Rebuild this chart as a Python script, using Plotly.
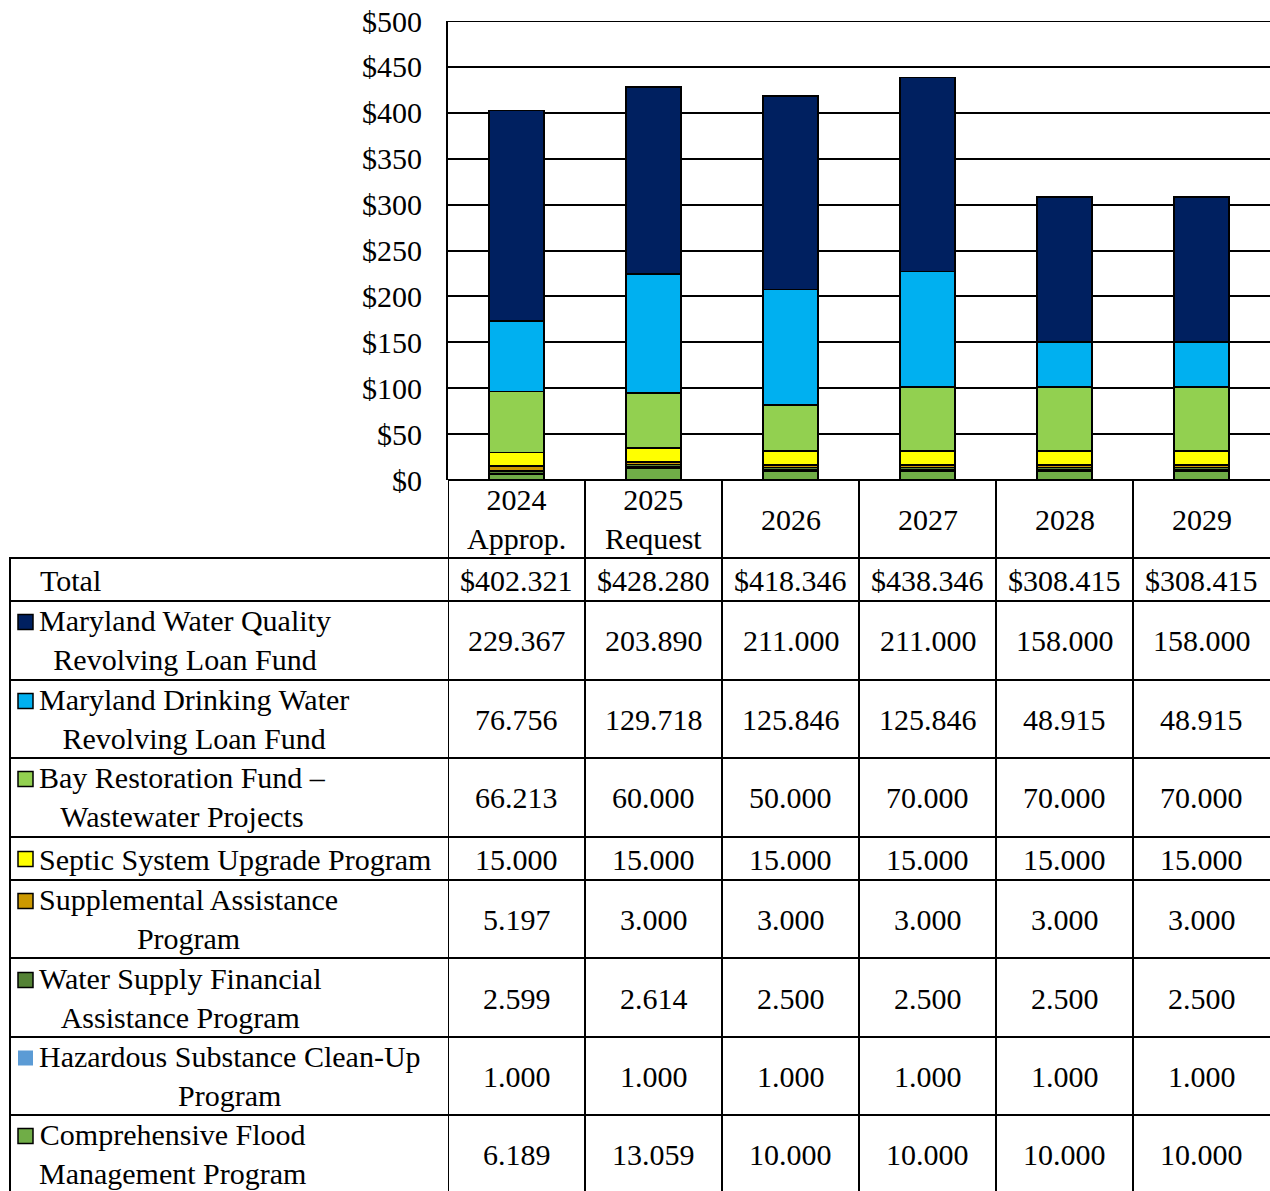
import plotly.graph_objects as go

W, H = 1270, 1191

categories = ["2024 Approp.", "2025 Request", "2026", "2027", "2028", "2029"]
category_labels = ["2024<br>Approp.", "2025<br>Request", "2026", "2027", "2028", "2029"]
y_tick_values = [0, 50, 100, 150, 200, 250, 300, 350, 400, 450, 500]

totals = [402.321, 428.280, 418.346, 438.346, 308.415, 308.415]
water_quality = [229.367, 203.890, 211.000, 211.000, 158.000, 158.000]
drinking_water = [76.756, 129.718, 125.846, 125.846, 48.915, 48.915]
bay_restoration = [66.213, 60.000, 50.000, 70.000, 70.000, 70.000]
septic = [15.000, 15.000, 15.000, 15.000, 15.000, 15.000]
supplemental = [5.197, 3.000, 3.000, 3.000, 3.000, 3.000]
water_supply = [2.599, 2.614, 2.500, 2.500, 2.500, 2.500]
hazardous = [1.000, 1.000, 1.000, 1.000, 1.000, 1.000]
flood = [6.189, 13.059, 10.000, 10.000, 10.000, 10.000]

series_labels = [
    "Maryland Water Quality<br>Revolving Loan Fund",
    "Maryland Drinking Water<br>Revolving Loan Fund",
    "Bay Restoration Fund –<br>Wastewater Projects",
    "Septic System Upgrade Program",
    "Supplemental Assistance<br>Program",
    "Water Supply Financial<br>Assistance Program",
    "Hazardous Substance Clean-Up<br>Program",
    "Comprehensive Flood<br>Management Program",
]
series_values = [water_quality, drinking_water, bay_restoration, septic,
                 supplemental, water_supply, hazardous, flood]
series_colors = ["#002060", "#00B0F0", "#92D050", "#FFFF00",
                 "#CC9900", "#548235", "#5B9BD5", "#70AD47"]
series_border = [True, True, True, True, True, True, False, True]

FONT = "Liberation Serif"
FS = 30

def fx(px):
    return px / W

def fy(py):
    return 1 - py / H

fig = go.Figure()

# stacked bottom-up in reverse table order
for i in reversed(range(len(series_values))):
    fig.add_trace(go.Bar(
        x=categories, y=series_values[i],
        name=series_labels[i].replace("<br>", " "),
        marker=dict(color=series_colors[i],
                    line=dict(color="black", width=1.5)),
        width=0.4, showlegend=False,
    ))

shapes = []
annotations = []

row_bounds = [558, 601, 680, 758, 837, 880, 958, 1037, 1115]
row_centers = [580, 640, 719, 797, 859, 919, 998, 1076, 1154]
two_line = [False, True, True, True, False, True, True, True, True]
LW = 2

# top gridline of the plot
shapes.append(dict(type="line", xref="paper", yref="y",
                   x0=fx(448), x1=1, y0=y_tick_values[-1], y1=y_tick_values[-1],
                   line=dict(color="black", width=LW)))
# horizontal table lines
shapes.append(dict(type="line", xref="paper", yref="paper",
                   x0=fx(448), x1=1, y0=fy(480), y1=fy(480),
                   line=dict(color="black", width=LW)))
for yb in row_bounds:
    shapes.append(dict(type="line", xref="paper", yref="paper",
                       x0=fx(9), x1=1, y0=fy(yb), y1=fy(yb),
                       line=dict(color="black", width=LW)))
# vertical lines (column boundaries from the category axis)
for k in range(len(categories)):
    shapes.append(dict(type="line", xref="x", yref="paper",
                       x0=k - 0.5, x1=k - 0.5, y0=fy(480), y1=0,
                       line=dict(color="black", width=LW)))
shapes.append(dict(type="line", xref="paper", yref="paper",
                   x0=fx(10), x1=fx(10), y0=fy(558), y1=0,
                   line=dict(color="black", width=LW)))

# header labels
for k, lab in enumerate(category_labels):
    annotations.append(dict(x=k, xref="x", y=fy(519), yref="paper",
                            text=lab, showarrow=False, xanchor="center",
                            yanchor="middle", align="center",
                            font=dict(family=FONT, size=FS, color="black")))

# total row
annotations.append(dict(x=fx(38), xref="paper", y=fy(row_centers[0]), yref="paper",
                        text="Total", showarrow=False, xanchor="left",
                        yanchor="middle", font=dict(family=FONT, size=FS, color="black")))
for k, v in enumerate(totals):
    annotations.append(dict(x=k, xref="x", y=fy(row_centers[0]), yref="paper",
                            text=f"${v:.3f}", showarrow=False, xanchor="center",
                            yanchor="middle",
                            font=dict(family=FONT, size=FS, color="black")))

# series rows
for i, (lab, vals, col) in enumerate(zip(series_labels, series_values, series_colors)):
    yc = row_centers[i + 1]
    annotations.append(dict(x=fx(37), xref="paper", y=fy(yc), yref="paper",
                            text=lab, showarrow=False, xanchor="left",
                            yanchor="middle", align="center",
                            font=dict(family=FONT, size=FS, color="black")))
    my = yc - 18 if two_line[i + 1] else yc
    shapes.append(dict(type="rect", xref="paper", yref="paper",
                       x0=fx(18), x1=fx(33), y0=fy(my - 7.5), y1=fy(my + 7.5),
                       fillcolor=col,
                       line=dict(color="black", width=1.5 if series_border[i] else 0)))
    for k, v in enumerate(vals):
        annotations.append(dict(x=k, xref="x", y=fy(yc), yref="paper",
                                text=f"{v:.3f}", showarrow=False, xanchor="center",
                                yanchor="middle",
                                font=dict(family=FONT, size=FS, color="black")))

fig.update_layout(
    width=W, height=H,
    margin=dict(l=0, r=0, t=0, b=0, pad=0, autoexpand=False),
    paper_bgcolor="white", plot_bgcolor="white",
    barmode="stack", bargap=0.6,
    font=dict(family=FONT, size=FS, color="black"),
    xaxis=dict(type="category", domain=[fx(448), 1], range=[-0.5, 5.5],
               showticklabels=False, showgrid=False, showline=False,
               zeroline=False, ticks="", automargin=False),
    yaxis=dict(domain=[fy(480), fy(21)], range=[0, 500],
               tickmode="array", tickvals=y_tick_values,
               ticktext=[f"${v}" for v in y_tick_values],
               showgrid=True, gridcolor="black", gridwidth=2,
               showline=True, linecolor="black", linewidth=2,
               zeroline=False, ticks="", ticklabelstandoff=18, automargin=False,
               tickfont=dict(family=FONT, size=FS, color="black")),
    shapes=shapes, annotations=annotations,
)

fig.write_html("out.html",
               config={"displayModeBar": False},
               post_script="document.body.style.margin='0';document.body.style.overflow='hidden';")
